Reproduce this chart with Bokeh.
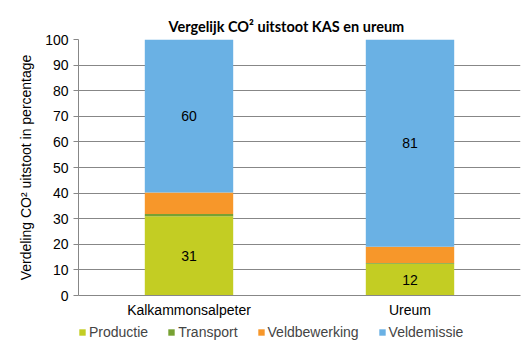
from bokeh.plotting import figure
from bokeh.layouts import column
from bokeh.models import FactorRange, Legend, LegendItem, ColumnDataSource, SingleIntervalTicker
from bokeh.core.properties import value
from bokeh.embed import file_html
from bokeh.resources import INLINE

categories = ["Kalkammonsalpeter", "Ureum"]
series = ["Productie", "Transport", "Veldbewerking", "Veldemissie"]
productie = [31.0, 12.4]
transport = [0.8, 0.3]
veldbewerking = [8.4, 6.3]
veldemissie = [59.8, 81.0]
colors = ["#C3CD23", "#77A133", "#F7972A", "#6AB1E4"]

data = {"cat": categories, "Productie": productie, "Transport": transport,
        "Veldbewerking": veldbewerking, "Veldemissie": veldemissie}
src = ColumnDataSource(data)

p = figure(x_range=FactorRange(*categories, range_padding=0), y_range=(0, 100),
           frame_width=442, frame_height=256, output_backend="svg", toolbar_location=None,
           min_border_left=78, min_border_right=8, min_border_top=39, min_border_bottom=27)

rs = p.vbar_stack(series, x="cat", width=0.4, color=colors, source=src, line_color=None)

# value labels for Productie and Veldemissie
lab_x, lab_y, lab_t = [], [], []
for i, c in enumerate(categories):
    lab_x.append(c); lab_y.append(productie[i] / 2); lab_t.append(str(round(productie[i])))
    base = productie[i] + transport[i] + veldbewerking[i]
    lab_x.append(c); lab_y.append(base + veldemissie[i] / 2); lab_t.append(str(round(veldemissie[i])))
p.text(x=lab_x, y=lab_y, text=lab_t, text_align="center", text_baseline="middle",
       text_font=value("Liberation Sans"), text_font_size="14px", text_color="#000000")

p.title.text = "Vergelijk CO² uitstoot KAS en ureum"
p.title.align = "left"
p.title.offset = 90
p.title.text_font = "Lato"
p.title.text_font_style = "bold"
p.title.text_font_size = "14.5px"
p.title.text_color = "#000000"

p.yaxis.ticker = SingleIntervalTicker(interval=10, num_minor_ticks=0)
p.yaxis.axis_label = "Verdeling CO² uitstoot in percentage"
p.yaxis.axis_label_text_font = "Liberation Sans"
p.yaxis.axis_label_text_font_style = "normal"
p.yaxis.axis_label_text_font_size = "14px"
p.yaxis.axis_label_text_color = "#000000"
p.yaxis.axis_label_standoff = 8
for ax in (p.xaxis, p.yaxis):
    ax.major_label_text_font = "Liberation Sans"
    ax.major_label_text_font_size = "14px"
    ax.major_label_text_color = "#000000"
    ax.axis_line_color = "#878787"
    ax.major_tick_line_color = "#878787"
    ax.minor_tick_line_color = None
    ax.major_tick_in = 0
    ax.major_tick_out = 5
p.xaxis.major_tick_line_color = None
p.xaxis.major_tick_out = 0
p.xaxis.major_label_standoff = 6

p.ygrid.grid_line_color = "#878787"
p.xgrid.grid_line_color = None
p.outline_line_color = None

# legend in its own strip below the chart
lg = figure(width=528, height=30, output_backend="svg", toolbar_location=None,
            x_range=(0, 1), y_range=(0, 1), x_axis_location=None, y_axis_location=None,
            min_border=0, min_border_left=0, min_border_right=0,
            min_border_top=0, min_border_bottom=0)
lg.grid.visible = False
lg.outline_line_color = None
dummy = [lg.vbar(x=[-10], top=[0], bottom=[0], width=0.0, color=c, line_color=None)
         for c in colors]
legend = Legend(items=[LegendItem(label=s, renderers=[r]) for s, r in zip(series, dummy)],
                orientation="horizontal", location=(0, 12),
                label_text_font="Liberation Sans", label_text_font_size="14px",
                glyph_width=8, glyph_height=8, label_standoff=3, spacing=19,
                border_line_color=None, background_fill_alpha=0,
                padding=0, margin=0, label_height=14)
lg.add_layout(legend)

layout = column(p, lg, spacing=0)
open("out.html", "w").write(file_html(layout, INLINE))
